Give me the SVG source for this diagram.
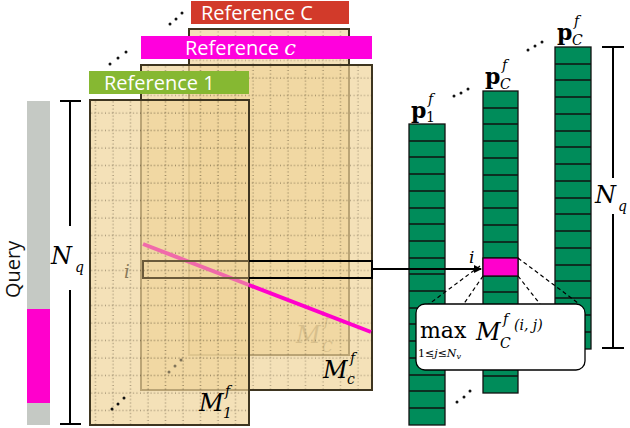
<svg xmlns="http://www.w3.org/2000/svg" width="630" height="428" viewBox="0 0 630 428">
<defs>
<pattern id="grid" width="17.5" height="17.5" patternUnits="userSpaceOnUse">
<path d="M8 0V17.5M0 8H17.5" stroke="#2a2010" stroke-width="0.8" stroke-dasharray="1 2.5" fill="none"/>
</pattern>
<marker id="ah" markerWidth="8" markerHeight="8" refX="7" refY="4" orient="auto" markerUnits="userSpaceOnUse"><path d="M0 0L8 4L0 8z" fill="#000"/></marker>
</defs>
<style>
.mat{fill:#efd49a;fill-opacity:0.7;stroke:#3e3520;stroke-width:2}
.lbl{font-family:"Open Sans","Liberation Sans",sans-serif;font-size:20px;fill:#fff}
.m{font-family:"DejaVu Serif","Liberation Serif",serif;font-style:italic}
.b{font-family:"DejaVu Serif","Liberation Serif",serif;font-weight:bold}
.s{font-family:"DejaVu Serif","Liberation Serif",serif;font-style:italic;font-size:14px}
.cell{fill:#008c5a;stroke:#111;stroke-width:1.3}
.dot{fill:#111}
.dash{stroke:#000;stroke-width:1.2;stroke-dasharray:4 3;fill:none}
</style>
<g id="query">
<rect x="27" y="101" width="23" height="324" fill="#c5c9c4"/>
<rect x="27" y="309" width="23" height="94" fill="#ff00cc"/>
<text x="0" y="0" transform="translate(20,298) rotate(-90)" font-family="Open Sans,Liberation Sans,sans-serif" font-size="20" fill="#111">Query</text>
</g>
<g id="nq-left" stroke="#000" stroke-width="2">
<path d="M70 101V226M70 290V424M60 101H81M60 424H81"/>
<text class="m" x="51" y="264" font-size="24" stroke="none">N</text>
<text class="s" x="75" y="272" stroke="none">q</text>
</g>
<g id="refC">
<rect class="mat" x="189" y="29" width="160" height="326"/>
<rect x="189" y="29" width="160" height="326" fill="url(#grid)" opacity="0.5"/>
<rect x="191" y="1" width="158" height="23" fill="#d23a2a"/>
<text class="lbl" x="201" y="20">Reference C</text>
<g fill="#8a7a5a" opacity="0.8"><text class="m" x="296" y="343" font-size="24">M</text><text class="s" x="324" y="326">f</text><text class="s" x="322" y="352">C</text></g>
</g>
<g id="refc">
<rect class="mat" x="141" y="65" width="231" height="325"/>
<rect x="141" y="65" width="231" height="325" fill="url(#grid)" opacity="0.6"/>
<rect x="141" y="36" width="231" height="23" fill="#ff00dd"/>
<text class="lbl" x="185" y="55">Reference <tspan class="m" font-size="21">c</tspan></text>
<text class="m" x="323" y="378" font-size="24">M</text><text class="s" x="350" y="363">f</text><text class="s" x="347" y="384">c</text>
</g>
<g id="ref1">
<rect class="mat" x="90" y="100" width="159" height="325"/>
<rect x="90" y="100" width="159" height="325" fill="url(#grid)" opacity="0.7"/>
<rect x="89" y="71" width="160" height="23" fill="#86b832"/>
<text class="lbl" x="104" y="90">Reference 1</text>
<text class="m" x="199" y="411" font-size="24">M</text><text class="s" x="225" y="396">f</text><text class="s" x="223" y="418">1</text>
</g>
<g id="overlay">
<line x1="143" y1="244" x2="249" y2="285" stroke="#f06aaa" stroke-width="4"/>
<line x1="249" y1="285" x2="371" y2="332" stroke="#ff00cc" stroke-width="4"/>
<rect x="143" y="261" width="106" height="17" fill="none" stroke="#6a5a3a" stroke-width="2"/>
<path d="M249 261H372V278H249" fill="none" stroke="#000" stroke-width="2"/>
<text class="m" x="124" y="278" font-size="18" fill="#8a7a5a">i</text>
</g>
<g id="dots">
<circle class="dot" cx="110" cy="64" r="1.5"/><circle class="dot" cx="118" cy="58" r="1.5"/><circle class="dot" cx="126" cy="52" r="1.5"/>
<circle class="dot" cx="170" cy="24" r="1.5"/><circle class="dot" cx="176" cy="19" r="1.5"/><circle class="dot" cx="182" cy="13" r="1.5"/>
<circle class="dot" cx="112" cy="409" r="1.5"/><circle class="dot" cx="118" cy="404" r="1.5"/><circle class="dot" cx="124" cy="398" r="1.5"/>
<circle class="dot" cx="169" cy="372" r="1.5" opacity="0.5"/><circle class="dot" cx="175" cy="366" r="1.5" opacity="0.5"/><circle class="dot" cx="181" cy="360" r="1.5" opacity="0.5"/>
<circle class="dot" cx="454" cy="96" r="1.5"/><circle class="dot" cx="461" cy="93" r="1.5"/><circle class="dot" cx="468" cy="89" r="1.5"/>
<circle class="dot" cx="528" cy="50" r="1.5"/><circle class="dot" cx="535" cy="46" r="1.5"/><circle class="dot" cx="542" cy="42" r="1.5"/>
<circle class="dot" cx="457" cy="402" r="1.5"/><circle class="dot" cx="464" cy="397" r="1.5"/><circle class="dot" cx="470" cy="391" r="1.5"/>
</g>
<g id="p1">
<rect class="cell" x="409" y="124" width="36" height="301"/>
<path d="M409 141H445M409 157H445M409 174H445M409 191H445M409 208H445M409 224H445M409 241H445M409 258H445M409 274H445M409 291H445M409 308H445M409 324H445M409 341H445M409 358H445M409 375H445M409 391H445M409 408H445" stroke="#111" stroke-width="1.3"/>
<text class="b" x="411" y="118" font-size="22">p</text><text class="s" x="428" y="104">f</text><text x="426" y="122" font-family="DejaVu Serif,serif" font-size="14">1</text>
</g>
<g id="pc">
<rect class="cell" x="483" y="91" width="35" height="302"/>
<path d="M483 108H518M483 124H518M483 141H518M483 158H518M483 175H518M483 191H518M483 208H518M483 225H518M483 242H518M483 258H518M483 276H518M483 292H518M483 309H518M483 326H518M483 343H518M483 359H518M483 376H518" stroke="#111" stroke-width="1.3"/>
<rect x="483" y="258" width="35" height="18" fill="#ff00cc" stroke="#111" stroke-width="1.3"/>
<text class="b" x="485" y="84" font-size="22">p</text><text class="s" x="502" y="70">f</text><text class="s" x="500" y="89">C</text>
</g>
<g id="pC">
<rect class="cell" x="555" y="47" width="36" height="302"/>
<path d="M555 64H591M555 80H591M555 97H591M555 114H591M555 131H591M555 147H591M555 164H591M555 181H591M555 198H591M555 214H591M555 231H591M555 248H591M555 265H591M555 281H591M555 298H591M555 315H591M555 332H591" stroke="#111" stroke-width="1.3"/>
<text class="b" x="557" y="40" font-size="22">p</text><text class="s" x="574" y="26">f</text><text class="s" x="572" y="45">C</text>
</g>
<g id="nq-right" stroke="#000" stroke-width="2">
<path d="M613 47V178M613 214V348M602 47H624M602 348H624"/>
<text class="m" x="595" y="203" font-size="24" stroke="none">N</text>
<text class="s" x="618" y="211" stroke="none">q</text>
</g>
<g id="connectors">
<line x1="372" y1="269" x2="481" y2="269" stroke="#000" stroke-width="2" marker-end="url(#ah)"/>
<text class="m" x="469" y="263" font-size="17">i</text>
<path class="dash" d="M480 266L425 307M483 276L463 305M518 258L578 303M518 276L540 304"/>
</g>
<g id="callout">
<rect x="416" y="304" width="169" height="66" rx="9" fill="#fff" stroke="#000" stroke-width="1.3"/>
<text x="420" y="338" font-family="DejaVu Serif,serif" font-size="22">max</text>
<text x="418" y="357" font-family="DejaVu Serif,serif" font-size="11">1≤<tspan font-style="italic">j</tspan>≤<tspan font-style="italic">N</tspan><tspan font-style="italic" font-size="8" dy="2">v</tspan></text>
<text class="m" x="476" y="340" font-size="24">M</text>
<text class="s" x="503" y="324">f</text>
<text class="s" x="500" y="348">C</text>
<text class="s" x="514" y="330">(i, j)</text>
</g>
</svg>
